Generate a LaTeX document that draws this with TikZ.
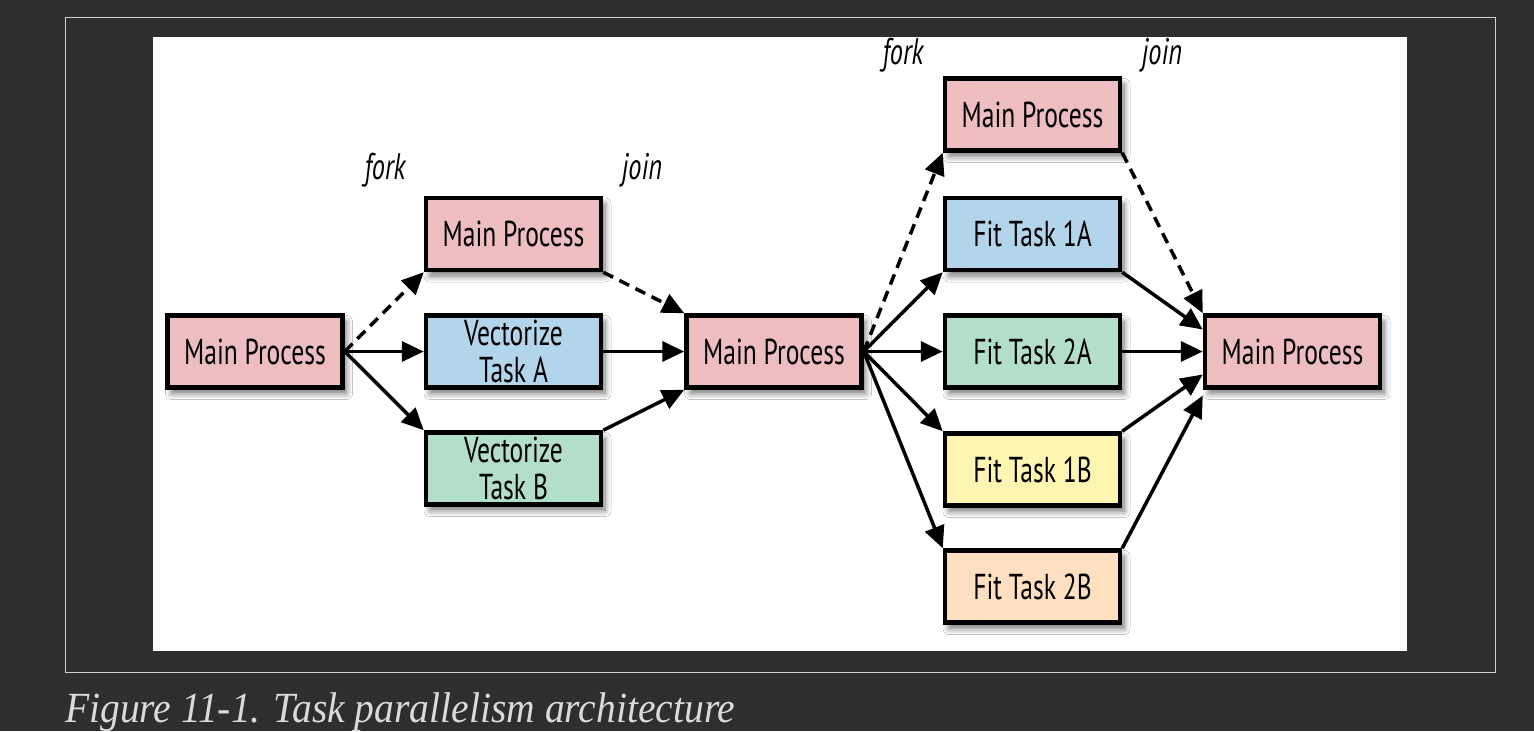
\documentclass[tikz,border=0pt]{standalone}
\usepackage{fontspec}
\setmainfont{PT Sans}
\newfontfamily\boxfont[FakeStretch=0.71]{PT Sans}
\newfontfamily\capfont[FakeStretch=0.92]{Liberation Serif}
\usetikzlibrary{arrows.meta,shadows.blur}
\definecolor{bg}{HTML}{2E2E2E}
\definecolor{framec}{HTML}{CFCFCF}
\definecolor{capc}{HTML}{DADADA}
\definecolor{pinkc}{HTML}{EDBDC0}
\definecolor{bluec}{HTML}{B3D5EB}
\definecolor{greenc}{HTML}{B3DFC9}
\definecolor{yellowc}{HTML}{FFF5B3}
\definecolor{peachc}{HTML}{FEE0C0}
\begin{document}
\begin{tikzpicture}[x=1pt,y=-1pt,
  box/.style={draw=black, line width=4.5pt, minimum width=175pt, minimum height=72pt,
    inner sep=0pt, align=center, font=\boxfont\fontsize{36}{37}\selectfont,
    blur shadow={shadow xshift=4pt, shadow yshift=-6pt, shadow blur steps=8,
      shadow blur radius=6pt, shadow opacity=55}},
  arr/.style={line width=3.5pt, -{Triangle[length=22pt,width=20pt]}},
  darr/.style={arr, dash pattern=on 11pt off 7pt},
  lab/.style={font=\boxfont\itshape\fontsize{37}{40}\selectfont, inner sep=0pt}
]
\useasboundingbox (0,0) rectangle (1534,731);
\fill[bg] (0,0) rectangle (1534,731);
\draw[framec, line width=1pt] (65.5,17.5) rectangle (1495.5,672.5);
\fill[white] (153,37) rectangle (1407,651);

\node[box, fill=pinkc] (mp1) at (255,351.5) {Main Process};
\node[box, fill=pinkc] (mpa) at (513.5,234) {Main Process};
\node[box, fill=bluec] (va) at (513.5,351.5) {Vectorize\\Task A};
\node[box, fill=greenc] (vb) at (513.5,468.5) {Vectorize\\Task B};
\node[box, fill=pinkc] (mp2) at (774,351.5) {Main Process};
\node[box, fill=pinkc] (mpb) at (1032.5,114.5) {Main Process};
\node[box, fill=bluec] (f1a) at (1032.5,234) {Fit Task 1A};
\node[box, fill=greenc] (f2a) at (1032.5,351.5) {Fit Task 2A};
\node[box, fill=yellowc] (f1b) at (1032.5,469.5) {Fit Task 1B};
\node[box, fill=peachc] (f2b) at (1032.5,586.5) {Fit Task 2B};
\node[box, fill=pinkc] (mp3) at (1292.5,351.5) {Main Process};

\node[lab] (fork1) at (385,170) {fork};
\node[lab] (join1) at (642,170) {join};
\node[lab] (fork2) at (903,55) {fork};
\node[lab] (join2) at (1162,55) {join};

\draw[darr] (mp1.east) -- (mpa.south west);
\draw[arr] (mp1.east) -- (va.west);
\draw[arr] (mp1.east) -- (vb.north west);
\draw[darr] (mpa.south east) -- (mp2.north west);
\draw[arr] (va.east) -- (mp2.west);
\draw[arr] (vb.north east) -- (mp2.south west);

\draw[darr] (mp2.east) -- (mpb.south west);
\draw[arr] (mp2.east) -- (f1a.south west);
\draw[arr] (mp2.east) -- (f2a.west);
\draw[arr] (mp2.east) -- (f1b.north west);
\draw[arr] (mp2.east) -- (f2b.north west);

\draw[darr] (mpb.south east) -- (mp3.north west);
\draw[arr] (f1a.south east) -- ([yshift=22pt]mp3.west);
\draw[arr] (f2a.east) -- (mp3.west);
\draw[arr] (f1b.north east) -- ([yshift=-23pt]mp3.west);
\draw[arr] (f2b.north east) -- ([yshift=-44pt]mp3.west);

\node[anchor=base west, inner sep=0pt, text=capc, font=\capfont\itshape\fontsize{43}{48}\selectfont] (cap) at (65,722) {Figure 11-1. Task parallelism architecture};
\end{tikzpicture}
\end{document}
